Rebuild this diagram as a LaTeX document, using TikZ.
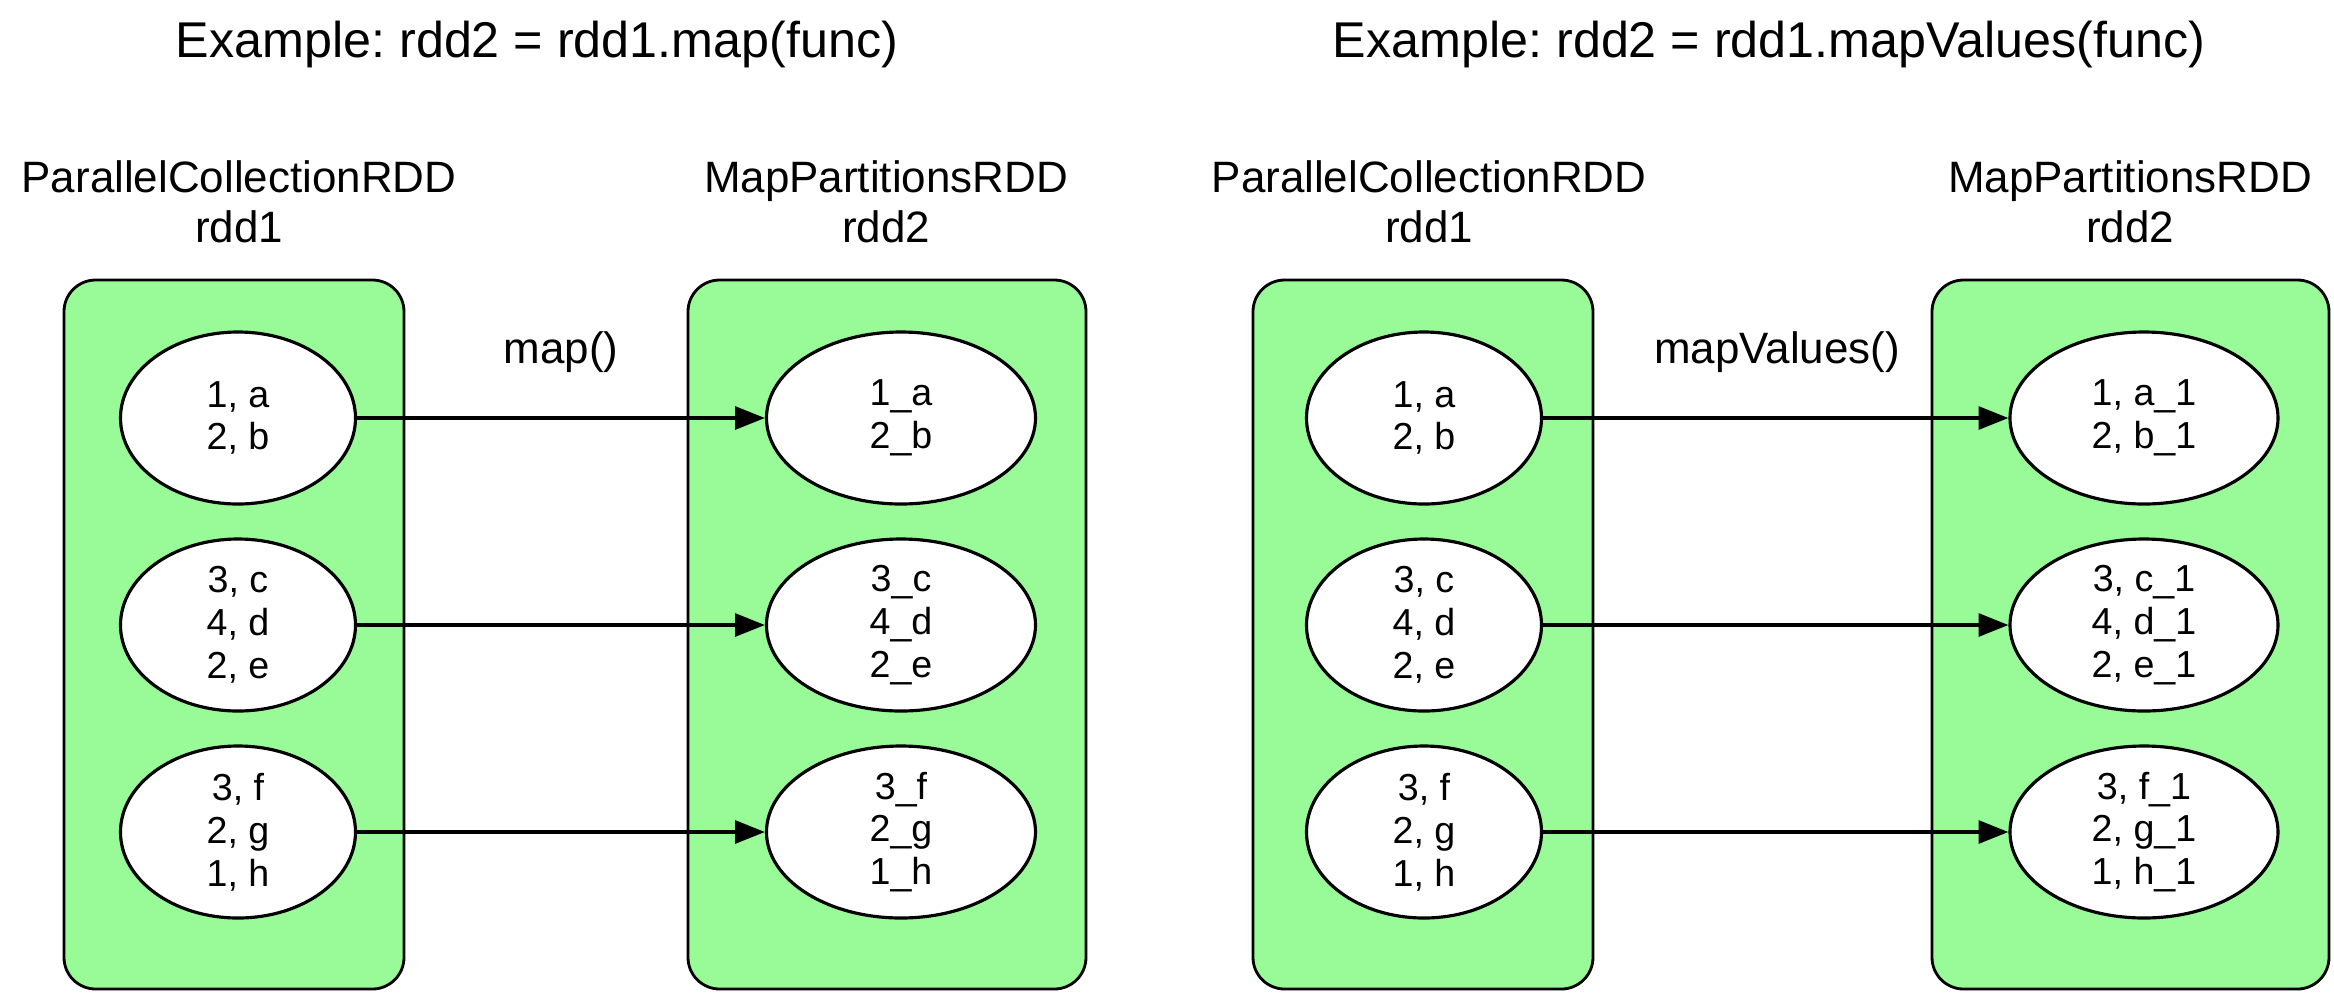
\documentclass[tikz,border=0pt]{standalone}
\usepackage{fontspec}
\setmainfont{Liberation Sans}
\usepackage{tikz}
\definecolor{rddGreen}{RGB}{152, 251, 152}
\usetikzlibrary{shapes.geometric, arrows.meta, positioning}
\frenchspacing

\begin{document}
\begin{tikzpicture}[
    partbox/.style={
        rectangle,
        rounded corners=9pt,
        draw=black,
        fill=rddGreen,
        line width=0.8pt,
        minimum height=7.09cm,
        inner sep=0pt
    },
    part/.style={
        ellipse,
        draw=black,
        fill=white,
        line width=0.9pt,
        minimum height=1.72cm,
        inner sep=0pt,
        align=center,
        font=\fontsize{10.7}{12.2}\selectfont
    },
    rddlabel/.style={align=center, font=\fontsize{12.5}{14.2}\selectfont},
    title/.style={anchor=base, font=\fontsize{14.3}{17}\selectfont},
    flow/.style={draw=black, line width=1pt, -{Triangle[length=8.5pt, width=6.5pt]}}
]
    \useasboundingbox (0,0) rectangle (23.34,-9.98);

    % titles
    \node[title] (titleMap) at (5.37,-0.57) {Example: rdd2 = rdd1.map(func)};
    \node[title] (titleMapValues) at (17.69,-0.57) {Example: rdd2 = rdd1.mapValues(func)};

    % rdd names
    \node[rddlabel] (pcLabelA) at (2.39,-2.02) {ParallelCollectionRDD\\rdd1};
    \node[rddlabel] (mpLabelA) at (8.86,-2.02) {MapPartitionsRDD\\rdd2};
    \node[rddlabel] (pcLabelB) at (14.29,-2.02) {ParallelCollectionRDD\\rdd1};
    \node[rddlabel] (mpLabelB) at (21.30,-2.02) {MapPartitionsRDD\\rdd2};

    % rdd boxes
    \node[partbox, minimum width=3.40cm] (pcBoxA) at (2.34,-6.345) {};
    \node[partbox, minimum width=3.98cm] (mpBoxA) at (8.87,-6.345) {};
    \node[partbox, minimum width=3.40cm] (pcBoxB) at (14.23,-6.345) {};
    \node[partbox, minimum width=3.97cm] (mpBoxB) at (21.305,-6.345) {};

    % map() partitions
    \node[part, minimum width=2.35cm] (pcA1) at (2.38,-4.18) {1, a\\2, b};
    \node[part, minimum width=2.35cm] (pcA2) at (2.38,-6.25) {3, c\\4, d\\2, e};
    \node[part, minimum width=2.35cm] (pcA3) at (2.38,-8.32) {3, f\\2, g\\1, h};
    \node[part, minimum width=2.69cm] (mpA1) at (9.01,-4.18) {1\_a\\2\_b};
    \node[part, minimum width=2.69cm] (mpA2) at (9.01,-6.25) {3\_c\\4\_d\\2\_e};
    \node[part, minimum width=2.69cm] (mpA3) at (9.01,-8.32) {3\_f\\2\_g\\1\_h};

    % mapValues() partitions
    \node[part, minimum width=2.35cm] (pcB1) at (14.24,-4.18) {1, a\\2, b};
    \node[part, minimum width=2.35cm] (pcB2) at (14.24,-6.25) {3, c\\4, d\\2, e};
    \node[part, minimum width=2.35cm] (pcB3) at (14.24,-8.32) {3, f\\2, g\\1, h};
    \node[part, minimum width=2.68cm] (mpB1) at (21.44,-4.18) {1, a\_1\\2, b\_1};
    \node[part, minimum width=2.68cm] (mpB2) at (21.44,-6.25) {3, c\_1\\4, d\_1\\2, e\_1};
    \node[part, minimum width=2.68cm] (mpB3) at (21.44,-8.32) {3, f\_1\\2, g\_1\\1, h\_1};

    % transformations
    \node[rddlabel, anchor=base] (mapLabel) at (5.61,-3.63) {map()};
    \node[rddlabel, anchor=base] (mapValuesLabel) at (17.77,-3.63) {mapValues()};

    \draw[flow] (pcA1.east) -- (mpA1.west);
    \draw[flow] (pcA2.east) -- (mpA2.west);
    \draw[flow] (pcA3.east) -- (mpA3.west);
    \draw[flow] (pcB1.east) -- (mpB1.west);
    \draw[flow] (pcB2.east) -- (mpB2.west);
    \draw[flow] (pcB3.east) -- (mpB3.west);
\end{tikzpicture}
\end{document}
